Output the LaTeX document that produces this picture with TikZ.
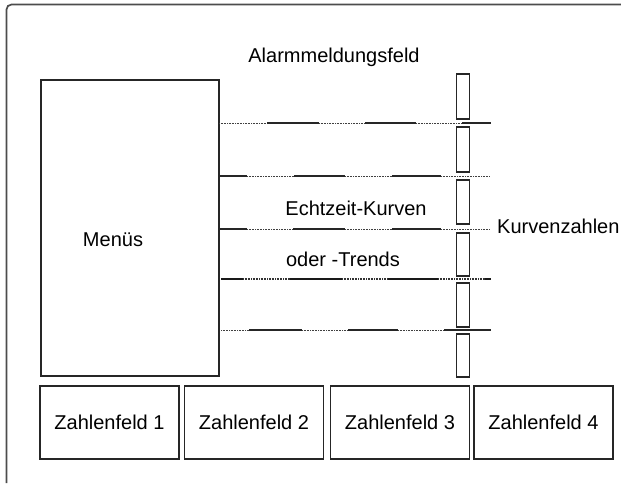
\documentclass[tikz,border=0pt]{standalone}
\usepackage{fontspec}
\setmainfont{Liberation Sans}
\begin{document}
\begin{tikzpicture}[x=1pt,y=-1pt,
  box/.style={draw=black!85, line width=1.2pt, inner sep=0pt, outer sep=0pt},
  lbl/.style={font=\fontsize{20}{23}\selectfont, text=black, inner sep=0pt},
  dotseg/.style={line width=1pt, dash pattern=on 1pt off 0.6pt, draw=black!75},
  solseg/.style={line width=1.2pt, draw=black!85},
  thickseg/.style={line width=2pt, draw=black!90},
  thickdot/.style={line width=1.6pt, dash pattern=on 1pt off 0.6pt, draw=black!80}]
\useasboundingbox (0,0) rectangle (621,485);
% outer frame
\draw[line width=1.7pt, black!70, rounded corners=5pt] (6.5,483) -- (6.5,4.5) -- (621,4.5);
% menu box
\node[box, minimum width=178pt, minimum height=296pt] (menu) at (130,228) {};
\node[lbl] (menulbl) at (113,240) {Menüs};
% title
\node[lbl] (alarm) at (334,57) {Alarmmeldungsfeld};
% number fields
\foreach \n/\x in {1/109.5,2/254,3/400,4/543.5}
  \node[box, minimum width=139pt, minimum height=73pt] (z\n) at (\x,422.5) {\fontsize{20}{23}\selectfont Zahlenfeld \n};
% small curve-number rectangles
\foreach \i/\t/\b in {1/74/119,2/127/172,3/180/224,4/233/276,5/283/327,6/334/377}
  \node[box, minimum width=13.5pt, minimum height={\b-\t}] (r\i) at (463,{(\t+\b)/2}) {};
% trend lines
\foreach \a/\b/\s in {219/267/dotseg,267/319/solseg,319/365/dotseg,365/416/solseg,416/462/dotseg,462/491/solseg}
  \draw[\s] (\a,123) -- (\b,123);
\foreach \a/\b/\s in {219/247/solseg,247/294/dotseg,294/345/solseg,345/392/dotseg,392/441/solseg,441/490/dotseg}
  \draw[\s] (\a,176) -- (\b,176);
\foreach \a/\b/\s in {219/247/solseg,247/293/dotseg,293/345/solseg,345/392/dotseg,392/441/solseg,441/490/dotseg}
  \draw[\s] (\a,229) -- (\b,229);
\foreach \a/\b/\s in {221/243/thickseg,243/290/thickdot,290/342/thickseg,342/388/thickdot,388/438/thickseg,438/485/thickdot,485/491/thickseg}
  \draw[\s] (\a,279) -- (\b,279);
\foreach \a/\b/\s in {221/249/dotseg,249/302/solseg,302/348/dotseg,348/398/solseg,398/444/dotseg,444/491/solseg}
  \draw[\s] (\a,330) -- (\b,330);
% labels
\node[lbl] (echt) at (356,208) {Echtzeit-Kurven};
\node[lbl] (oder) at (343,259) {oder -Trends};
\node[lbl, anchor=west] (kurv) at (497,226) {Kurvenzahlen};
\end{tikzpicture}
\end{document}
